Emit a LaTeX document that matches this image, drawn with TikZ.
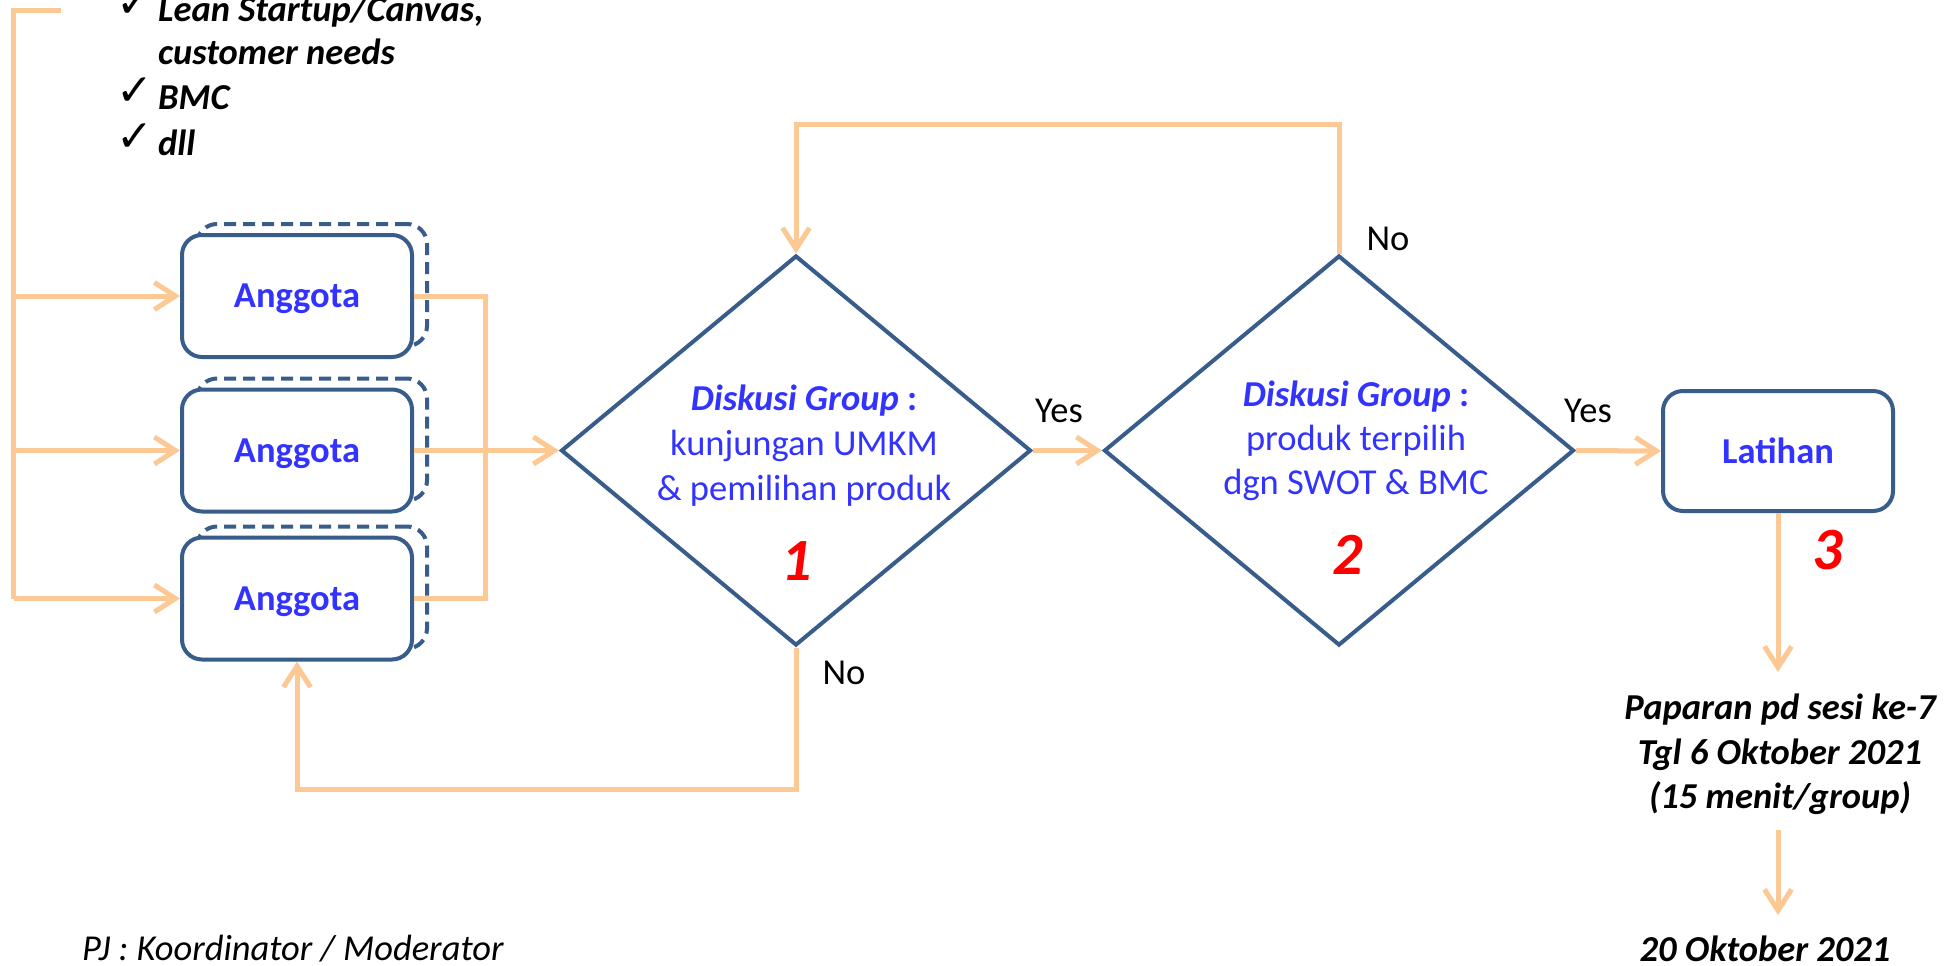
\documentclass[tikz,border=0pt]{standalone}
\usepackage{fontspec}
\setmainfont{Carlito}
\newfontfamily\djv{DejaVu Sans}
\usetikzlibrary{shapes.geometric,arrows.meta}
\definecolor{boxblue}{RGB}{56,93,138}
\definecolor{peach}{RGB}{252,200,148}
\definecolor{txtblue}{RGB}{51,51,255}
\begin{document}
\begin{tikzpicture}[x=1pt,y=-1pt,
  conn/.style={draw=peach,line width=5pt},
  arr/.style={conn,-{Straight Barb[length=21pt,width=27pt]}},
  member/.style={draw=boxblue,line width=4pt,rounded corners=20pt,fill=white,
    minimum width=230pt,minimum height=122pt,inner sep=0pt,
    font=\fontsize{36.5}{44}\selectfont\bfseries,text=txtblue,text depth=0pt},
  shadowbox/.style={draw=boxblue,line width=4pt,rounded corners=20pt,fill=white,
    minimum width=230pt,minimum height=122pt,inner sep=0pt,dash pattern=on 12pt off 7pt},
  decision/.style={shape=diamond,draw=boxblue,line width=4pt,
    minimum width=470pt,minimum height=390pt,inner sep=0pt},
  dtext/.style={font=\fontsize{36.5}{44}\selectfont,text=txtblue,anchor=base,inner sep=0pt},
  num/.style={font=\fontsize{60}{70}\selectfont\bfseries\itshape,text=red,inner sep=0pt},
  lbl/.style={font=\fontsize{36.5}{44}\selectfont,text=black,inner sep=0pt},
  bitext/.style={font=\fontsize{36.5}{44}\selectfont\bfseries\itshape,text=black,inner sep=0pt,anchor=base},
  chk/.style={font=\fontsize{44}{50}\selectfont\djv,text=black,inner sep=0pt,anchor=base west}
]
\fill[white] (0,0) rectangle (1960,966);
\useasboundingbox (0,0) rectangle (1960,966);

% checklist
\node[chk] (c1) at (116,18) {✓};
\node[bitext,anchor=base west] (l1) at (158,22) {Lean Startup/Canvas,};
\node[bitext,anchor=base west] (l2) at (158,65) {customer needs};
\node[chk] (c2) at (116,106) {✓};
\node[bitext,anchor=base west] (l3) at (158,110) {BMC};
\node[chk] (c3) at (116,151) {✓};
\node[bitext,anchor=base west] (l4) at (158,155) {dll};

% member boxes
\node[shadowbox] (s1) at (312,285) {};
\node[member] (a1) at (297,296) {Anggota};
\node[shadowbox] (s2) at (312,439.5) {};
\node[member] (a2) at (297,450.5) {Anggota};
\node[shadowbox] (s3) at (312,587.5) {};
\node[member] (a3) at (297,598.5) {Anggota};

% decisions
\node[decision] (d1) at (796,450.5) {};
\node[decision] (d2) at (1339,450.5) {};
\node[member,minimum width=230pt,minimum height=120pt] (lat) at (1778,451) {Latihan};

% diamond texts
\node[dtext] (d1a) at (804,410) {{\bfseries\itshape Diskusi Group}{\bfseries\ :}};
\node[dtext] (d1b) at (804,455) {kunjungan UMKM};
\node[dtext] (d1c) at (804,500) {\& pemilihan produk};
\node[num] (n1) at (797,561) {1};
\node[dtext] (d2a) at (1356,406) {{\bfseries\itshape Diskusi Group}{\bfseries\ :}};
\node[dtext] (d2b) at (1356,450) {produk terpilih};
\node[dtext] (d2c) at (1356,494) {dgn SWOT \& BMC};
\node[num] (n2) at (1348,555) {2};
\node[num] (n3) at (1828,550) {3};

% labels
\node[lbl] (y1) at (1059,411) {Yes};
\node[lbl] (y2) at (1588,411) {Yes};
\node[lbl] (no1) at (844,673) {No};
\node[lbl] (no2) at (1388,239) {No};

% right column texts
\node[bitext] (p1) at (1780,719) {Paparan pd sesi ke-7};
\node[bitext] (p2) at (1780,764) {Tgl 6 Oktober 2021};
\node[bitext] (p3) at (1780,808) {(15 menit/group)};
\node[bitext] (p4) at (1765,961) {20 Oktober 2021};
\node[font=\fontsize{36.5}{44}\selectfont\itshape,inner sep=0pt,anchor=base west] (pj) at (82,960) {PJ : Koordinator / Moderator};

% coordinates
\coordinate (ls) at (61,10.7);
\coordinate (lt) at (13.5,10.7);
\coordinate (jx) at (485,0);
\coordinate (ty) at (0,124);
\coordinate (by) at (0,789);
\coordinate (q1) at (1778,672);
\coordinate (q2) at (1778,830);
\coordinate (q3) at (1778,915);

% connectors
\draw[conn] (ls) -- (lt) -- (lt |- a3.west);
\draw[arr] (lt |- a1.west) -- (a1.west);
\draw[arr] (lt |- a2.west) -- (a2.west);
\draw[arr] (lt |- a3.west) -- (a3.west);
\draw[conn] (a1.east) -- (a1.east -| jx) -- (a3.east -| jx) -- (a3.east);
\draw[arr] (a2.east) -- (d1.west);
\draw[arr] (d1.east) -- (d2.west);
\draw[arr] (d2.east) -- (lat.west);
\draw[arr] (d2.north) -- (d2.north |- ty) -| (d1.north);
\draw[arr] (d1.south) -- (d1.south |- by) -| (a3.south);
\draw[arr] (lat.south) -- (q1);
\draw[arr] (q2) -- (q3);
\end{tikzpicture}
\end{document}
